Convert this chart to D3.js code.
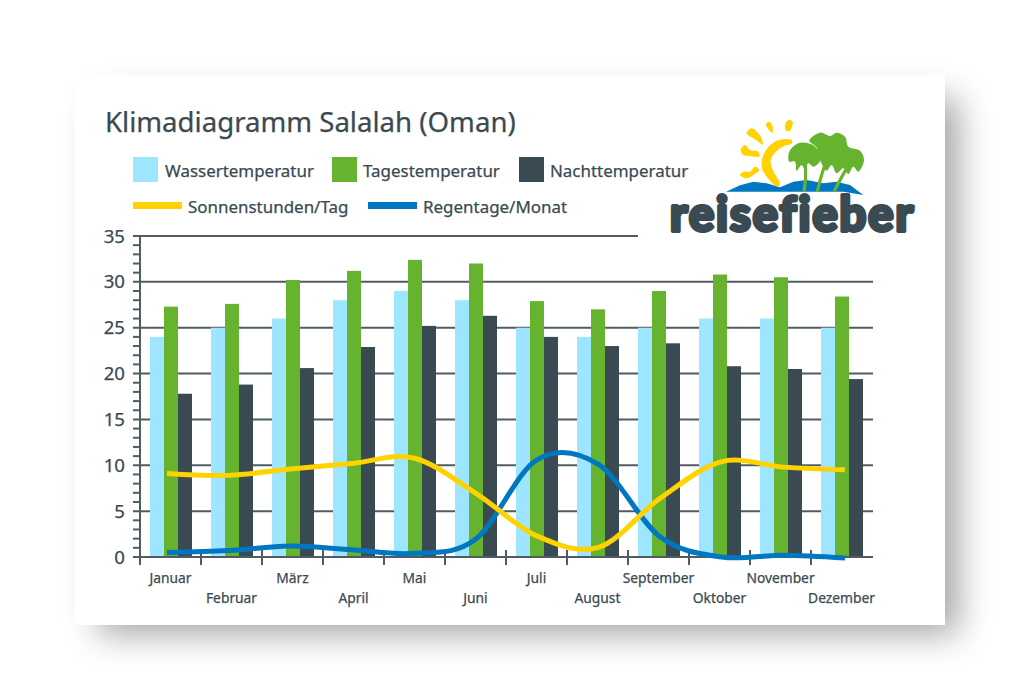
<!DOCTYPE html>
<html><head><meta charset="utf-8">
<script src="https://cdn.jsdelivr.net/npm/d3@7/dist/d3.min.js"></script>
<style>html,body{margin:0;padding:0;background:#fff}svg{display:block}text{font-family:"Noto Sans",sans-serif}</style>
</head><body><svg id="c" width="1020" height="700"></svg>
<script>
const title = "Klimadiagramm Salalah (Oman)";
const months = ["Januar","Februar","März","April","Mai","Juni","Juli","August","September","Oktober","November","Dezember"];
const wasser = [24,25,26,28,29,28,25,24,25,26,26,25];
const tag = [27.3,27.6,30.2,31.2,32.4,32,27.9,27,29,30.8,30.5,28.4];
const nacht = [17.8,18.8,20.6,22.9,25.2,26.3,24,23,23.3,20.8,20.5,19.4];
const sonne = [9.1,8.9,9.6,10.2,10.8,7.0,2.3,1.05,6.4,10.4,9.8,9.5];
const regen = [0.5,0.7,1.2,0.8,0.4,1.9,10.6,10.1,2.2,0.0,0.2,-0.1];
const yTicks = [0,5,10,15,20,25,30,35];
const C = {wasser:"#9ee5ff",tag:"#65b32e",nacht:"#3a4a52",sonne:"#ffd200",regen:"#0077c0",ink:"#3a4a52",grid:"#4f5c63"};

const svg = d3.select("#c");
const defs = svg.append("defs");
const f = defs.append("filter").attr("id","sh").attr("x","-10%").attr("y","-10%").attr("width","125%").attr("height","125%");
f.append("feGaussianBlur").attr("stdDeviation",17);
svg.append("rect").attr("x",98).attr("y",98).attr("width",860).attr("height",536).attr("fill","#000").attr("opacity",0.36).attr("filter","url(#sh)");
svg.append("rect").attr("x",75).attr("y",75).attr("width",870).attr("height",550).attr("fill","#fff");

const heavy = s => s.attr("stroke",C.ink).attr("stroke-width",0.25);
svg.append("text").attr("x",105).attr("y",132).attr("font-size",27.6).attr("fill",C.ink).call(heavy).text(title);

// legend
const legendBoxes = [["Wassertemperatur",C.wasser,133,165],["Tagestemperatur",C.tag,332,363],["Nachttemperatur",C.nacht,519,550]];
legendBoxes.forEach(([t,c,x,tx])=>{
  svg.append("rect").attr("x",x).attr("y",157).attr("width",25).attr("height",25).attr("fill",c);
  svg.append("text").attr("x",tx).attr("y",177).attr("font-size",16.95).attr("fill",C.ink).call(heavy).text(t);
});
const legendLines = [["Sonnenstunden/Tag",C.sonne,133,188],["Regentage/Monat",C.regen,368,423]];
legendLines.forEach(([t,c,x,tx])=>{
  svg.append("rect").attr("x",x).attr("y",202).attr("width",49).attr("height",7).attr("fill",c);
  svg.append("text").attr("x",tx).attr("y",213).attr("font-size",16.95).attr("fill",C.ink).call(heavy).text(t);
});

// scales
const y = d3.scaleLinear().domain([0,35]).range([557,236]);
const x = d3.scaleBand().domain(months).range([140,872]);
const sub = d3.scaleBand().domain(["w","t","n"]).range([10,52]);
const lx = d3.scalePoint().domain(months).range([167,845]);

// grid
const g = svg.append("g");
g.selectAll("line.g").data(yTicks).join("line").attr("class","g")
  .attr("x1",133).attr("x2",873).attr("y1",d=>y(d)).attr("y2",d=>y(d))
  .attr("stroke",C.grid).attr("stroke-width",2);
g.selectAll("line.m").data(d3.range(0,36).filter(d=>d%5)).join("line").attr("class","m")
  .attr("x1",133).attr("x2",140).attr("y1",d=>y(d)).attr("y2",d=>y(d))
  .attr("stroke",C.grid).attr("stroke-width",2);
g.append("line").attr("x1",140).attr("x2",140).attr("y1",236).attr("y2",565).attr("stroke",C.grid).attr("stroke-width",2);
g.selectAll("line.x").data(d3.range(0,12)).join("line").attr("class","x")
  .attr("x1",d=>140+d*x.step()).attr("x2",d=>140+d*x.step()).attr("y1",550).attr("y2",565)
  .attr("stroke",C.grid).attr("stroke-width",2);

// bars
[["w",wasser,C.wasser],["t",tag,C.tag],["n",nacht,C.nacht]].forEach(([k,vals,c])=>{
  svg.append("g").selectAll("rect").data(vals).join("rect")
    .attr("x",(d,i)=>x(months[i])+sub(k)).attr("width",sub.bandwidth())
    .attr("y",d=>y(d)).attr("height",d=>y(0)-y(d)).attr("fill",c);
});
svg.append("line").attr("x1",133).attr("x2",873).attr("y1",y(0)).attr("y2",y(0)).attr("stroke",C.grid).attr("stroke-width",2);

// white logo area hides the end of the top gridline
svg.append("rect").attr("x",638).attr("y",230).attr("width",240).attr("height",12).attr("fill","#fff");

// y labels
svg.selectAll("text.yl").data(yTicks).join("text").attr("class","yl")
  .attr("x",125).attr("y",d=>y(d)+6.5).attr("text-anchor","end").attr("font-size",18.6).attr("fill",C.ink).call(heavy).text(d=>d);
// x labels
svg.selectAll("text.xl").data(months).join("text").attr("class","xl")
  .attr("x",(d,i)=>x(d)+x.bandwidth()/2).attr("y",(d,i)=>i%2?603:583)
  .attr("text-anchor","middle").attr("font-size",13.8).attr("fill",C.ink).call(heavy).text(d=>d);

// lines
const line = d3.line().x((d,i)=>lx(months[i])).y(d=>y(d)).curve(d3.curveCatmullRom.alpha(0));
svg.append("path").attr("d",line(regen)).attr("fill","none").attr("stroke",C.regen).attr("stroke-width",5);
svg.append("path").attr("d",line(sonne)).attr("fill","none").attr("stroke",C.sonne).attr("stroke-width",5);

// logo
const logo = svg.append("g");
logo.append("text").attr("x",670).attr("y",231).attr("font-size",47).attr("font-weight",700)
  .attr("textLength",243).attr("lengthAdjust","spacing")
  .attr("stroke",C.ink).attr("stroke-width",4).attr("stroke-linejoin","round")
  .attr("fill",C.ink).style("font-family","Lato").style("font-variant-ligatures","none").text("reisefieber");
const blob = d3.line().x(p=>720+p[0]/3).y(p=>110+p[1]/3).curve(d3.curveCatmullRomClosed.alpha(0.5));
const poly = d3.line().x(p=>720+p[0]/3).y(p=>110+p[1]/3).curve(d3.curveLinearClosed);
// water
logo.append("path").attr("fill",C.regen).attr("d",poly([[18,245],[60,226],[100,215],[140,220],[180,232],[220,215],[260,210],[310,220],[350,215],[390,225],[430,255],[370,245],[310,245],[180,245]]));
// sun
logo.append("path").attr("fill",C.sonne).attr("d",blob([[215,90],[170,92],[135,125],[125,170],[148,210],[172,230],[180,222],[158,180],[152,150],[168,125],[192,108],[216,100]]));
[[[80,70],[95,55],[115,70],[125,85],[128,103],[115,95],[100,85]],
 [[62,120],[75,105],[90,120],[115,125],[118,140],[90,138],[70,135]],
 [[60,195],[70,185],[90,185],[105,170],[118,180],[100,195],[80,205]],
 [[138,42],[148,35],[158,50],[157,68],[145,58]],
 [[197,38],[208,30],[218,35],[210,62],[198,62]]
].forEach(p=>logo.append("path").attr("fill",C.sonne).attr("d",blob(p)));
// trunks
const trunk = d3.line().x(p=>720+p[0]/3).y(p=>110+p[1]/3).curve(d3.curveBasis);
[[[256,165],[258,205],[252,245]],[[325,140],[305,190],[292,245]],[[378,178],[360,210],[342,245]]].forEach(p=>
  logo.append("path").attr("fill","none").attr("stroke",C.tag).attr("stroke-width",3.2).attr("d",trunk(p)));
// palm crowns
[[[208,125],[235,100],[265,100],[290,115],[302,150],[280,170],[265,160],[255,178],[245,165],[230,182],[225,155],[208,155]],
 [[268,92],[300,68],[330,78],[350,68],[375,80],[385,110],[420,122],[432,150],[415,185],[400,170],[385,192],[370,175],[350,190],[335,165],[320,182],[300,150],[290,112]]
].forEach(p=>logo.append("path").attr("fill",C.tag).attr("d",blob(p)));
</script></body></html>
